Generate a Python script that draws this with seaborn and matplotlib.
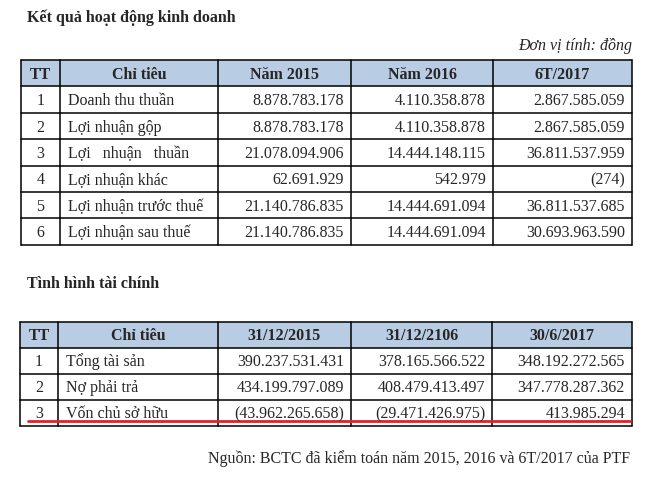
import matplotlib
matplotlib.use("Agg")
import matplotlib.pyplot as plt
import seaborn as sns

sns.set_style("white")
plt.rcParams['font.family'] = ['Liberation Serif', 'DejaVu Serif']

# bang 1: ket qua kinh doanh
hdr1 = ["TT", "Chỉ tiêu", "Năm 2015", "Năm 2016", "6T/2017"]
tt1 = ["1", "2", "3", "4", "5", "6"]
chitieu1 = ["Doanh thu thuần", "Lợi nhuận gộp", "Lợi   nhuận   thuần",
            "Lợi nhuận khác", "Lợi nhuận trước thuế", "Lợi nhuận sau thuế"]
nam2015 = ["8.878.783.178", "8.878.783.178", "21.078.094.906",
           "62.691.929", "21.140.786.835", "21.140.786.835"]
nam2016 = ["4.110.358.878", "4.110.358.878", "14.444.148.115",
           "542.979", "14.444.691.094", "14.444.691.094"]
t6_2017 = ["2.867.585.059", "2.867.585.059", "36.811.537.959",
           "(274)", "36.811.537.685", "30.693.963.590"]

# bang 2: tinh hinh tai chinh
hdr2 = ["TT", "Chỉ tiêu", "31/12/2015", "31/12/2106", "30/6/2017"]
tt2 = ["1", "2", "3"]
chitieu2 = ["Tổng tài sản", "Nợ phải trả", "Vốn chủ sở hữu"]
d2015 = ["390.237.531.431", "434.199.797.089", "(43.962.265.658)"]
d2016 = ["378.165.566.522", "408.479.413.497", "(29.471.426.975)"]
d2017 = ["348.192.272.565", "347.778.287.362", "413.985.294"]

fs = 11.5
head_col = "#b8cce4"

fig = plt.figure(figsize=(6.5, 4.79), dpi=100)
ax = fig.add_axes([0, 0, 1, 1])
ax.set_xlim(0, 650)
ax.set_ylim(479, 0)
ax.axis("off")


def draw_table(top, xs, row_h, header, cols):
    nrows = len(cols[0]) + 1
    bottom = top + nrows * row_h
    ax.add_patch(plt.Rectangle((xs[0], top), xs[-1] - xs[0], row_h,
                               facecolor=head_col, edgecolor="none"))
    for i in range(nrows + 1):
        ax.plot([xs[0], xs[-1]], [top + i * row_h] * 2, color="black", lw=1.1)
    for x in xs:
        ax.plot([x, x], [top, bottom], color="black", lw=1.1)
    for j, h in enumerate(header):
        ax.text((xs[j] + xs[j + 1]) / 2, top + row_h / 2 + 5.5, h, ha="center",
                va="baseline", fontsize=fs, fontweight="bold")
    for i in range(nrows - 1):
        yc = top + (i + 1.5) * row_h + 5.5
        ax.text((xs[0] + xs[1]) / 2, yc, cols[0][i], ha="center", va="baseline", fontsize=fs)
        ax.text(xs[1] + 8, yc, cols[1][i], ha="left", va="baseline", fontsize=fs)
        for j in range(2, 5):
            ax.text(xs[j + 1] - 7, yc, cols[j][i], ha="right", va="baseline", fontsize=fs)
    return bottom


ax.text(27, 22, "Kết quả hoạt động kinh doanh", fontsize=fs, fontweight="bold",
        ha="left", va="baseline")
ax.text(632, 50, "Đơn vị tính: đồng", fontsize=fs, style="italic",
        ha="right", va="baseline")
draw_table(60, [21, 60, 218, 351, 493, 632], 26.4, hdr1,
           [tt1, chitieu1, nam2015, nam2016, t6_2017])

ax.text(27, 288, "Tình hình tài chính", fontsize=fs, fontweight="bold",
        ha="left", va="baseline")
draw_table(322, [20, 58, 218, 351, 492, 632], 26, hdr2,
           [tt2, chitieu2, d2015, d2016, d2017])

# gach chan do dong von chu so huu
ax.plot([28, 630], [421, 421], color="#e3202a", lw=2)

ax.text(630, 463, "Nguồn: BCTC đã kiểm toán năm 2015, 2016 và 6T/2017 của PTF",
        fontsize=fs, ha="right", va="baseline")

fig.savefig("out.png", dpi=100, facecolor="white")
